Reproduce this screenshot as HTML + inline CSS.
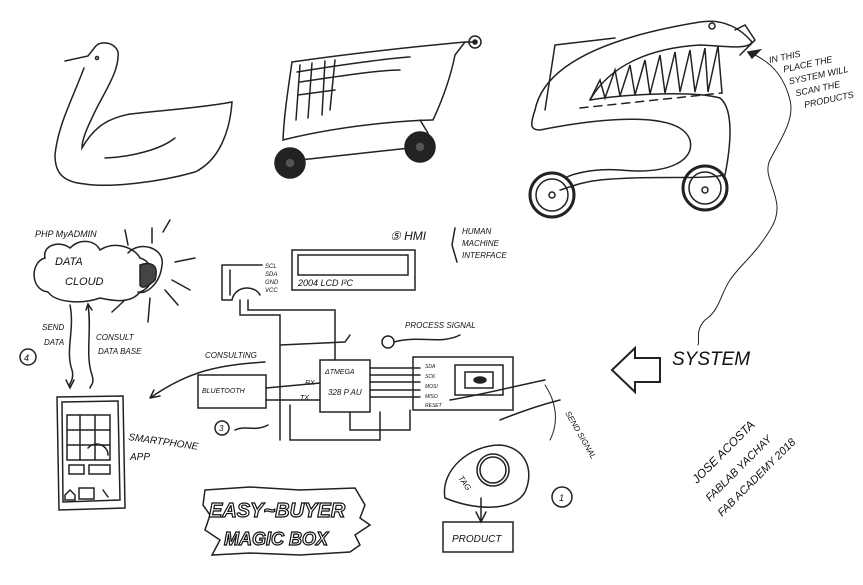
<!DOCTYPE html>
<html><head><meta charset="utf-8">
<style>
html,body{margin:0;padding:0;background:#fff;}
svg{display:block}
text{font-family:"Liberation Sans",sans-serif;fill:#111;font-style:italic}
</style></head>
<body>
<svg width="863" height="585" viewBox="0 0 863 585" xmlns="http://www.w3.org/2000/svg" stroke="#222" fill="none" stroke-width="1.5" stroke-linecap="round">
<!-- Swan -->
<path d="M65 61 L88 56 L95 47 C100 40 115 42 118 52 C120 72 102 95 92 118 C86 130 82 140 82 148 C95 125 110 118 130 114 C165 110 200 108 232 102 C230 130 220 160 195 172 C160 182 110 188 85 184 C60 182 55 170 55 155 C58 125 72 100 84 68"/>
<path d="M105 158 C130 157 160 150 175 138"/>
<circle cx="97" cy="58" r="1.5"/>
<!-- Cart -->
<path d="M292 62 C340 55 400 48 465 42 L475 42"/>
<path d="M292 62 C288 90 284 115 283 140 C330 128 390 121 432 120"/>
<path d="M465 42 L455 55 C450 80 440 105 433 120"/>
<path d="M297 72 C340 65 390 58 410 57 M300 82 C340 76 380 70 400 70 M298 95 L335 90"/>
<path d="M300 65 L296 120 M312 63 L308 118 M325 61 L322 115 M335 60 L330 110"/>
<circle cx="475" cy="42" r="6"/><circle cx="475" cy="42" r="2" fill="#222"/>
<path d="M300 160 L410 148 M420 120 L428 133"/>
<circle cx="290" cy="163" r="15" fill="#222"/>
<circle cx="420" cy="147" r="15" fill="#222"/>
<circle cx="290" cy="163" r="5" fill="#555"/>
<circle cx="420" cy="147" r="5" fill="#555"/>
<!-- Machine -->
<path d="M535 110 C545 60 620 35 700 22 C725 18 742 30 752 42 C748 50 725 46 700 45 C650 48 610 65 590 100"/>
<path d="M555 45 L545 110 M555 45 L615 38"/>
<path d="M590 100 C620 95 690 90 720 98 C735 110 730 150 725 175 C700 180 650 175 600 180 C580 182 568 188 560 190"/>
<path d="M535 110 C530 125 530 130 540 130 C600 118 680 110 690 140 C695 160 670 175 620 170 C590 168 570 175 565 178"/>
<path d="M590 100 L600 80 L605 98 L615 70 L620 96 L630 65 L635 95 L645 60 L650 94 L660 55 L665 93 L675 52 L680 92 L690 50 L695 92 L705 48 L708 92 L718 46 L722 93"/>
<path d="M580 108 L722 93" stroke-dasharray="8 6"/>
<path d="M735 30 L745 25 L755 40 L740 55"/>
<circle cx="712" cy="26" r="3"/>
<circle cx="552" cy="195" r="22" stroke-width="3"/><circle cx="552" cy="195" r="16"/><circle cx="552" cy="195" r="3"/>
<circle cx="705" cy="188" r="22" stroke-width="3"/><circle cx="705" cy="188" r="16"/><circle cx="705" cy="190" r="3"/>
<!-- scan note -->
<g transform="rotate(-12 810 75)">
<text x="773" y="55" font-size="9" stroke="none">IN THIS</text>
<text x="785" y="67" font-size="9" stroke="none">PLACE  THE</text>
<text x="788" y="80" font-size="9" stroke="none">SYSTEM  WILL</text>
<text x="792" y="93" font-size="9" stroke="none">SCAN  THE</text>
<text x="798" y="106" font-size="9" stroke="none">PRODUCTS</text>
</g>
<path d="M752 58 L748 52 L760 50 Z" fill="#222"/>
<path d="M755 55 C775 65 785 80 790 100 C795 120 780 140 770 160 C760 180 790 200 770 230 C755 255 740 265 730 280 C720 295 720 310 705 320 C695 330 700 340 698 345" stroke-width="1"/>
<text x="672" y="365" font-size="19" stroke="none" font-style="normal">SYSTEM</text>
<path d="M612 370 L635 348 L635 358 L660 358 L660 382 L635 382 L635 392 Z" stroke-width="2"/>
<!-- Cloud -->
<text x="35" y="237" font-size="9" stroke="none">PHP MyADMIN</text>
<path d="M45 258 C42 245 60 240 70 248 C80 238 95 240 100 250 C115 240 135 248 140 258 C155 262 158 285 140 292 C130 305 110 300 100 298 C80 305 55 302 48 292 C30 290 30 262 45 258 Z"/>
<text x="55" y="265" font-size="11" stroke="none">DATA</text>
<text x="65" y="285" font-size="11" stroke="none">CLOUD</text>
<path d="M128 253 C140 240 165 248 162 265 C160 285 145 295 138 292" />
<path d="M140 265 C148 262 160 262 155 280 C150 285 142 290 140 285 Z" fill="#444"/>
<path d="M163 232 L170 220 M175 262 L195 258 M172 280 L190 290 M165 290 L178 305 M150 298 L148 322 M125 300 L112 312 M152 243 L152 228 M128 245 L125 230"/>
<!-- send/consult -->
<text x="42" y="330" font-size="8" stroke="none">SEND</text>
<text x="44" y="345" font-size="8" stroke="none">DATA</text>
<text x="96" y="340" font-size="8" stroke="none">CONSULT</text>
<text x="98" y="354" font-size="8" stroke="none">DATA BASE</text>
<path d="M70 305 C75 330 65 350 72 370 C75 380 68 385 70 385 M66 380 L70 388 L74 380"/>
<path d="M88 305 C92 330 85 355 92 375 C95 385 90 385 90 388 M86 310 L88 304 L92 310"/>
<circle cx="28" cy="357" r="8"/><text x="24" y="361" font-size="9" stroke="none">4</text>
<!-- phone -->
<path d="M57 397 L123 396 L125 508 L59 510 Z"/>
<path d="M62 402 L118 401 L120 500 L63 502 Z"/>
<rect x="67" y="415" width="43" height="45"/>
<path d="M67 430 L110 430 M67 445 L110 445 M80 415 L80 460 M95 415 L95 460"/>
<path d="M88 448 C95 440 108 445 108 455"/>
<rect x="69" y="465" width="15" height="9"/><rect x="89" y="465" width="21" height="9"/>
<rect x="79" y="488" width="15" height="11"/>
<path d="M65 495 L70 490 L75 495 L75 500 L65 500 Z M103 490 L108 497"/>
<text x="128" y="440" font-size="10" stroke="none" transform="rotate(8 128 440)">SMARTPHONE</text>
<text x="130" y="460" font-size="10" stroke="none">APP</text>
<!-- circuit -->
<text x="390" y="240" font-size="12" stroke="none">⑤ HMI</text>
<text x="462" y="234" font-size="8" stroke="none">HUMAN</text>
<text x="462" y="246" font-size="8" stroke="none">MACHINE</text>
<text x="462" y="258" font-size="8" stroke="none">INTERFACE</text>
<path d="M455 228 L452 245 L457 262"/>
<rect x="292" y="250" width="123" height="40"/>
<rect x="298" y="255" width="110" height="20"/>
<text x="298" y="286" font-size="9" stroke="none">2004 LCD I²C</text>
<text x="265" y="268" font-size="6" stroke="none">SCL</text>
<text x="265" y="276" font-size="6" stroke="none">SDA</text>
<text x="265" y="284" font-size="6" stroke="none">GND</text>
<text x="265" y="292" font-size="6" stroke="none">VCC</text>
<path d="M222 265 L222 300 L232 300 L232 300 C235 285 255 285 260 295 M230 270 L230 295 M222 265 L262 265"/>
<path d="M240 300 L240 315 L280 315 L280 440 M248 300 L248 310 L335 310 L335 360"/>
<path d="M280 345 L345 342 L350 335"/>
<rect x="320" y="360" width="50" height="52"/>
<text x="325" y="374" font-size="7" stroke="none">ΔTMEGA</text>
<text x="328" y="395" font-size="8" stroke="none">328 P AU</text>
<rect x="198" y="375" width="68" height="33"/>
<text x="202" y="393" font-size="7" stroke="none">BLUETOOTH</text>
<text x="305" y="385" font-size="7" stroke="none">RX</text>
<text x="300" y="400" font-size="7" stroke="none">TX</text>
<path d="M266 388 L320 383 M266 400 L320 400 M290 405 L290 440 L380 440 L380 412 M350 412 L350 430 L410 430 L410 410"/>
<text x="205" y="358" font-size="8" stroke="none">CONSULTING</text>
<path d="M265 362 C220 365 190 370 150 398 M150 398 L160 396 M150 398 L154 390"/>
<circle cx="222" cy="428" r="7"/><text x="219" y="431" font-size="8" stroke="none">3</text>
<path d="M235 430 C245 425 255 432 268 425"/>
<text x="405" y="328" font-size="8" stroke="none">PROCESS SIGNAL</text>
<circle cx="388" cy="342" r="6"/>
<path d="M394 342 C420 335 440 345 460 335"/>
<rect x="413" y="357" width="100" height="53"/>
<rect x="455" y="365" width="48" height="30"/>
<rect x="465" y="372" width="28" height="16"/>
<ellipse cx="480" cy="380" rx="6" ry="3" fill="#222"/>
<path d="M370 368 L420 368 M370 375 L420 375 M370 382 L420 382 M370 390 L420 390 M370 397 L420 397"/>
<text x="425" y="368" font-size="5" stroke="none">SDA</text>
<text x="425" y="378" font-size="5" stroke="none">SCK</text>
<text x="425" y="388" font-size="5" stroke="none">MOSI</text>
<text x="425" y="398" font-size="5" stroke="none">MISO</text>
<text x="425" y="407" font-size="5" stroke="none">RESET</text>
<path d="M450 400 C480 395 520 385 545 380 M500 420 C520 412 540 405 560 400"/>
<path d="M545 385 C555 400 560 420 550 440" stroke-width="1"/>
<text x="565" y="413" font-size="8" stroke="none" transform="rotate(60 565 413)">SEND SIGNAL</text>
<!-- tag -->
<path d="M445 498 C440 470 470 445 500 445 C525 447 535 470 525 492 C515 510 480 512 445 498 Z"/>
<circle cx="493" cy="470" r="16"/><circle cx="493" cy="470" r="13"/>
<text x="458" y="478" font-size="8" stroke="none" transform="rotate(55 458 478)">TAG</text>
<circle cx="562" cy="497" r="10"/><text x="559" y="501" font-size="9" stroke="none">1</text>
<path d="M481 498 L481 520 M476 512 L481 522 L486 512"/>
<rect x="443" y="522" width="70" height="30"/>
<text x="452" y="542" font-size="10" stroke="none">PRODUCT</text>
<!-- logo -->
<path d="M205 490 L250 487 L300 490 L355 488 L365 505 L360 518 L370 525 L355 535 L360 545 L350 552 L300 555 L250 553 L212 555 L220 540 L205 530 L210 515 L203 505 Z"/>
<text x="209" y="517" font-size="20" font-weight="bold" stroke="#111" stroke-width="1.2" style="fill:#fff">EASY~BUYER</text>
<text x="224" y="545" font-size="18" font-weight="bold" stroke="#111" stroke-width="1.2" style="fill:#fff">MAGIC BOX</text>
<!-- signature -->
<text x="697" y="484" font-size="12" stroke="none" transform="rotate(-45 697 484)">JOSE ACOSTA</text>
<text x="710" y="502" font-size="11" stroke="none" transform="rotate(-45 710 502)">FABLAB YACHAY</text>
<text x="722" y="517" font-size="11" stroke="none" transform="rotate(-45 722 517)">FAB ACADEMY 2018</text>
</svg>
</body></html>
